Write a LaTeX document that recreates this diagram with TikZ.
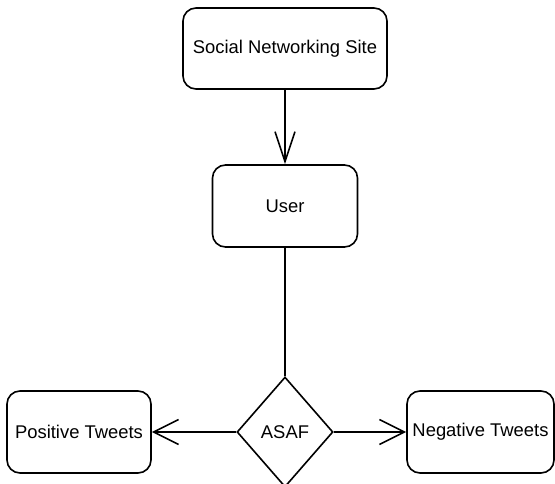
\documentclass[tikz,border=0pt]{standalone}
\usepackage{fontspec}
\setmainfont{Liberation Sans}
\usetikzlibrary{shapes.geometric,arrows.meta}
\begin{document}
\begin{tikzpicture}[x=1pt,y=-1pt,
  box/.style={draw,line width=1.6pt,rounded corners=13pt,inner sep=0pt,font=\fontsize{18.4}{22}\selectfont},
  dia/.style={draw,line width=1.6pt,diamond,inner sep=0pt,minimum width=96pt,minimum height=110pt,font=\fontsize{18.4}{22}\selectfont},
  conn/.style={line width=1.6pt},
  harr/.style={conn,-{Straight Barb[length=25pt,width=25pt,line width=1.6pt]}},
  varr/.style={conn,-{Straight Barb[length=30pt,width=20pt,line width=1.6pt]}}]
\useasboundingbox (0,0) rectangle (555,484);
\node[box,minimum width=204pt,minimum height=81pt] (sns) at (285,48.5) {Social Networking Site};
\node[box,minimum width=145pt,minimum height=82pt] (user) at (285,206) {User};
\node[dia] (asaf) at (285,432) {ASAF};
\node[box,minimum width=144pt,minimum height=82pt] (pos) at (79,432) {Positive Tweets};
\node[box,minimum width=147pt,minimum height=82pt] (neg) at (480.5,432) {Negative Tweets};
\draw[varr] (sns.south) -- (user.north);
\draw[conn] (user.south) -- (asaf.north);
\draw[harr] (asaf.west) -- (pos.east);
\draw[harr] (asaf.east) -- (neg.west);
\end{tikzpicture}
\end{document}
